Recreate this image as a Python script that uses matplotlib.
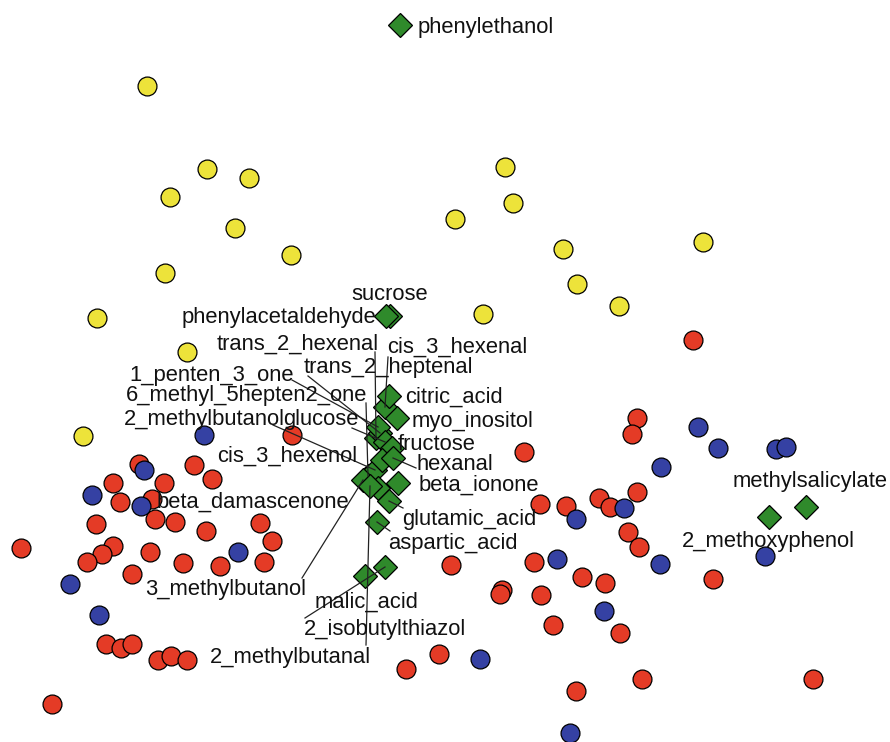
import numpy as np
import matplotlib
matplotlib.use("Agg")
import matplotlib.pyplot as plt

plt.rcParams['font.family'] = ['Liberation Sans', 'DejaVu Sans']

# ---- sample scores (plot coordinates) ----
yellow_x = [147, 207, 249, 170, 235, 291, 165, 97, 187, 83, 505, 513, 455, 563, 577, 619, 703, 483]
yellow_y = [86, 169, 178, 197, 228, 255, 273, 318, 352, 436, 167, 203, 219, 249, 284, 306, 242, 314]

blue_x = [204, 144, 92, 141, 238, 70, 99, 698, 718, 776, 786, 661, 624, 576, 765, 557, 660, 604, 480, 570]
blue_y = [435, 470, 495, 506, 552, 584, 615, 427, 448, 449, 447, 467, 508, 519, 556, 559, 564, 611, 659, 733]

red_x = [292, 139, 194, 212, 113, 164, 120, 152, 96, 155, 175, 206, 260, 272, 21, 113, 102, 87,
         150, 183, 220, 264, 132, 106, 121, 132, 158, 171, 187, 52, 406, 439, 451,
         693, 637, 632, 524, 637, 599, 610, 540, 566, 628, 639, 534, 582, 605, 713,
         502, 500, 541, 553, 620, 642, 813, 576]
red_y = [435, 464, 465, 479, 483, 483, 502, 499, 524, 519, 522, 531, 523, 541, 548, 546, 554, 562,
         552, 563, 566, 562, 574, 644, 648, 644, 660, 656, 660, 704, 669, 654, 565,
         340, 418, 434, 452, 492, 498, 507, 504, 506, 532, 547, 562, 577, 583, 579,
         590, 594, 595, 625, 633, 679, 679, 691]

# ---- variable loadings (compounds) ----
compounds = ["phenylethanol", "sucrose", "phenylacetaldehyde", "trans_2_hexenal", "cis_3_hexenal",
             "trans_2_heptenal", "1_penten_3_one", "6_methyl_5hepten2_one", "2_methylbutanol",
             "glucose", "citric_acid", "myo_inositol", "fructose", "cis_3_hexenol", "hexanal",
             "beta_ionone", "beta_damascenone", "glutamic_acid", "aspartic_acid", "3_methylbutanol",
             "malic_acid", "2_isobutylthiazol", "2_methylbutanal", "methylsalicylate", "2_methoxyphenol"]
comp_x = [400, 390, 386, 376, 385, 380, 378, 368, 375, 385, 389, 397, 392, 382, 393,
          398, 378, 389, 377, 363, 365, 385, 370, 806, 769]
comp_y = [25, 316, 316, 438, 407, 433, 427, 476, 470, 442, 396, 418, 448, 460, 458,
          483, 488, 501, 522, 480, 576, 567, 486, 507, 517]

# ---- label layout: text anchor (x, y, alignment) and leader-line start ----
label_x = [418, 390, 376, 379, 387, 304, 129, 126, 285, 283, 405, 412, 398, 357, 416,
           419, 349, 402, 388, 145, 366, 304, 210, 810, 768]
label_y = [27, 294, 318, 344, 347, 367, 375, 395, 419, 419, 397, 421, 445, 456, 465,
           485, 502, 520, 543, 590, 602, 630, 657, 482, 542]
label_ha = ["left", "center", "right", "right", "left", "left", "left", "left", "right", "left",
            "left", "left", "left", "right", "left", "left", "right", "left", "left", "left",
            "center", "left", "left", "center", "center"]
nan = np.nan
lead_x = [nan, nan, nan, 375, 388, 308, 292, 366, 273, 352, nan, nan, nan, nan, 416,
          nan, nan, 403, 390, 302, nan, 305, 366, nan, nan]
lead_y = [nan, nan, nan, 352, 357, 376, 380, 403, 425, 428, nan, nan, nan, nan, 468,
          nan, nan, 508, 531, 578, nan, 618, 645, nan, nan]

RED = "#E43B26"
BLUE = "#3541A3"
YELLOW = "#EDE33A"
GREEN = "#2F8A2B"

fig = plt.figure(figsize=(8.9, 7.42), dpi=100)
ax = fig.add_axes([0, 0, 1, 1])
ax.set_xlim(0, 890)
ax.set_ylim(742, 0)
ax.axis("off")

circ = dict(marker="o", linestyle="none", markersize=13.6, markeredgecolor="black",
            markeredgewidth=0.9, zorder=2)
ax.plot(red_x, red_y, markerfacecolor=RED, **circ)
ax.plot(blue_x, blue_y, markerfacecolor=BLUE, **circ)
ax.plot(yellow_x, yellow_y, markerfacecolor=YELLOW, **circ)

ax.plot(comp_x, comp_y, marker="D", linestyle="none", markersize=12.2,
        markerfacecolor=GREEN, markeredgecolor="black", markeredgewidth=0.9, zorder=3)

for i, name in enumerate(compounds):
    if not np.isnan(lead_x[i]):
        ax.plot([lead_x[i], comp_x[i]], [lead_y[i], comp_y[i]], color="#222222",
                linewidth=0.9, zorder=4)
    ax.text(label_x[i], label_y[i], name, ha=label_ha[i], va="center",
            fontsize=15.8, color="#111111", zorder=5)

fig.savefig("out.png", dpi=100)
